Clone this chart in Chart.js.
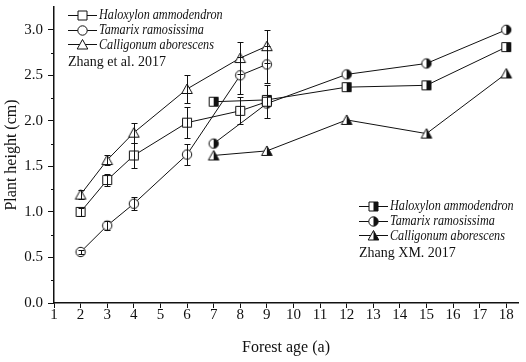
<!DOCTYPE html>
<html>
<head>
<meta charset="utf-8">
<script src="https://cdn.jsdelivr.net/npm/chart.js@4.4.1/dist/chart.umd.min.js"></script>
<style>
  html, body { margin: 0; padding: 0; background: #fff; }
  #wrap { position: relative; width: 526px; height: 362px; overflow: hidden; }
  #c { position: absolute; left: 0; top: 0; }
  .lg { position: absolute; font-family: "Liberation Serif", "Times New Roman", serif; font-size: 14px; color: #111; white-space: nowrap; }
  .row { height: 14.7px; display: flex; align-items: center; }
  .row canvas { display: block; margin-right: 1px; }
  .row span { font-style: italic; display: inline-block; transform: scaleX(0.87); transform-origin: 0 50%; }
  .note { margin-top: 2px; line-height: 15px; }
</style>
</head>
<body>
<div id="wrap">
  <canvas id="c" width="526" height="362"></canvas>
  <div class="lg" id="lg1" style="left:68px; top:8px;">
    <div class="row"><canvas data-m="square" width="30" height="15"></canvas><span>Haloxylon ammodendron</span></div>
    <div class="row"><canvas data-m="circle" width="30" height="15"></canvas><span>Tamarix ramosissima</span></div>
    <div class="row"><canvas data-m="triangle" width="30" height="15"></canvas><span>Calligonum aborescens</span></div>
    <div class="note">Zhang et al. 2017</div>
  </div>
  <div class="lg" id="lg2" style="left:359px; top:199px;">
    <div class="row"><canvas data-m="square" data-half="1" width="30" height="15"></canvas><span>Haloxylon ammodendron</span></div>
    <div class="row"><canvas data-m="circle" data-half="1" width="30" height="15"></canvas><span>Tamarix ramosissima</span></div>
    <div class="row"><canvas data-m="triangle" data-half="1" width="30" height="15"></canvas><span>Calligonum aborescens</span></div>
    <div class="note">Zhang XM. 2017</div>
  </div>
</div>
<script>
// Zhang et al. 2017 (open markers, with error bars)
const ages2017 = [2, 3, 4, 6, 8, 9];
const haloxylon2017 = [1.00, 1.35, 1.62, 1.98, 2.11, 2.21];
const haloxylonErr2017 = [0.04, 0.07, 0.14, 0.17, 0.15, 0.18];
const tamarix2017 = [0.56, 0.85, 1.09, 1.63, 2.50, 2.62];
const tamarixErr2017 = [0.02, 0.05, 0.07, 0.12, 0.20, 0.20];
const calligonum2017 = [1.19, 1.57, 1.87, 2.35, 2.69, 2.82];
const calligonumErr2017 = [0.05, 0.05, 0.11, 0.15, 0.18, 0.18];

// Zhang XM. 2017 (half-filled markers)
const agesXM = [7, 9, 12, 15, 18];
const haloxylonXM = [2.21, 2.23, 2.37, 2.39, 2.81];
const tamarixXM = [1.75, 2.19, 2.51, 2.63, 3.00];
const calligonumXM = [1.62, 1.67, 2.01, 1.86, 2.52];

const xTicks = [1, 2, 3, 4, 5, 6, 7, 8, 9, 10, 11, 12, 13, 14, 15, 16, 17, 18];
const yTicks = [0, 0.5, 1.0, 1.5, 2.0, 2.5, 3.0];
const yMinorTicks = [0.25, 0.75, 1.25, 1.75, 2.25, 2.75];

const FONT = '"Liberation Serif", "Times New Roman", serif';
const INK = '#111';

// 白抜き / 右半分塗りのマーカーを描く
function drawMarker(ctx, shape, cx, cy, half) {
  ctx.save();
  ctx.lineWidth = 1;
  ctx.strokeStyle = INK;
  ctx.beginPath();
  if (shape === 'square') {
    ctx.rect(cx - 4.5, cy - 4.5, 9, 9);
  } else if (shape === 'circle') {
    ctx.arc(cx, cy, 4.7, 0, Math.PI * 2);
  } else {
    ctx.moveTo(cx, cy - 5);
    ctx.lineTo(cx + 5.3, cy + 4.5);
    ctx.lineTo(cx - 5.3, cy + 4.5);
    ctx.closePath();
  }
  ctx.fillStyle = '#fff';
  ctx.fill();
  if (half) {
    ctx.save();
    ctx.clip();
    ctx.fillStyle = INK;
    ctx.fillRect(cx, cy - 8, 8, 16);
    ctx.restore();
  }
  ctx.stroke();
  ctx.restore();
}

function markerImage(shape, half) {
  const cv = document.createElement('canvas');
  cv.width = 14; cv.height = 14;
  drawMarker(cv.getContext('2d'), shape, 7, 7, half);
  return cv;
}

// 凡例の記号
document.querySelectorAll('.row canvas').forEach(cv => {
  const ctx = cv.getContext('2d');
  ctx.strokeStyle = INK;
  ctx.lineWidth = 1;
  ctx.beginPath();
  ctx.moveTo(0, 7.5); ctx.lineTo(29, 7.5);
  ctx.stroke();
  drawMarker(ctx, cv.dataset.m, 14.5, 7.5, cv.dataset.half === '1');
});

function pts(xs, ys) {
  return xs.map((x, i) => ({ x, y: ys[i] }));
}

function series(label, xs, ys, shape, half, errors) {
  return {
    label,
    data: pts(xs, ys),
    errors,
    borderColor: INK,
    borderWidth: 1,
    tension: 0,
    fill: false,
    pointStyle: markerImage(shape, half),
    pointRadius: 6,
  };
}

const errorBars = {
  id: 'errorBars',
  afterDatasetsDraw(chart) {
    const { ctx, scales: { x, y } } = chart;
    ctx.save();
    ctx.strokeStyle = INK;
    ctx.lineWidth = 1;
    chart.data.datasets.forEach(ds => {
      if (!ds.errors) return;
      ds.data.forEach((p, i) => {
        const e = ds.errors[i];
        const px = Math.round(x.getPixelForValue(p.x)) + 0.5;
        const top = Math.round(y.getPixelForValue(p.y + e)) + 0.5;
        const bot = Math.round(y.getPixelForValue(p.y - e)) + 0.5;
        ctx.beginPath();
        ctx.moveTo(px, top); ctx.lineTo(px, bot);
        ctx.moveTo(px - 3, top); ctx.lineTo(px + 3, top);
        ctx.moveTo(px - 3, bot); ctx.lineTo(px + 3, bot);
        ctx.stroke();
      });
    });
    ctx.restore();
  }
};

const minorTicks = {
  id: 'minorTicks',
  afterDraw(chart) {
    const { ctx, scales: { y }, chartArea } = chart;
    ctx.save();
    ctx.strokeStyle = INK;
    ctx.lineWidth = 1;
    ctx.beginPath();
    yMinorTicks.forEach(v => {
      const py = Math.round(y.getPixelForValue(v)) + 0.5;
      ctx.moveTo(chartArea.left - 3, py);
      ctx.lineTo(chartArea.left, py);
    });
    ctx.stroke();
    ctx.restore();
  }
};

new Chart(document.getElementById('c'), {
  type: 'line',
  data: {
    datasets: [
      series('Haloxylon ammodendron', ages2017, haloxylon2017, 'square', false, haloxylonErr2017),
      series('Tamarix ramosissima', ages2017, tamarix2017, 'circle', false, tamarixErr2017),
      series('Calligonum aborescens', ages2017, calligonum2017, 'triangle', false, calligonumErr2017),
      series('Haloxylon ammodendron XM', agesXM, haloxylonXM, 'square', true),
      series('Tamarix ramosissima XM', agesXM, tamarixXM, 'circle', true),
      series('Calligonum aborescens XM', agesXM, calligonumXM, 'triangle', true),
    ]
  },
  options: {
    responsive: false,
    animation: false,
    devicePixelRatio: 1,
    layout: { padding: { left: 0, top: 3, right: 8, bottom: 0 } },
    plugins: { legend: { display: false }, tooltip: { enabled: false } },
    scales: {
      x: {
        type: 'linear',
        min: 1,
        max: 18.44,
        afterBuildTicks: s => { s.ticks = xTicks.map(v => ({ value: v })); },
        afterFit: s => { s.height = 59; s.paddingLeft = 0; s.paddingRight = 0; },
        ticks: { autoSkip: false, maxRotation: 0, padding: -2, color: INK, font: { family: FONT, size: 15 }, callback: v => String(v) },
        grid: { drawOnChartArea: false, drawTicks: true, tickLength: 5, tickColor: INK, color: INK },
        border: { color: INK, width: 1.5 },
        title: { display: true, text: 'Forest age (a)', color: INK, font: { family: FONT, size: 16 }, padding: { top: 4, bottom: 5 } },
      },
      y: {
        type: 'linear',
        min: 0,
        max: 3.25,
        afterBuildTicks: s => { s.ticks = yTicks.map(v => ({ value: v })); },
        afterFit: s => { s.width = 54; s.paddingTop = 0; s.paddingBottom = 0; },
        ticks: { padding: 5, color: INK, font: { family: FONT, size: 15 }, callback: v => v.toFixed(1) },
        grid: { drawOnChartArea: false, drawTicks: true, tickLength: 6, tickColor: INK, color: INK },
        border: { color: INK, width: 1.5 },
        title: { display: true, text: 'Plant height (cm)', color: INK, font: { family: FONT, size: 16 }, padding: { top: 2, bottom: 0 } },
      }
    }
  },
  plugins: [errorBars, minorTicks]
});
</script>
</body>
</html>
